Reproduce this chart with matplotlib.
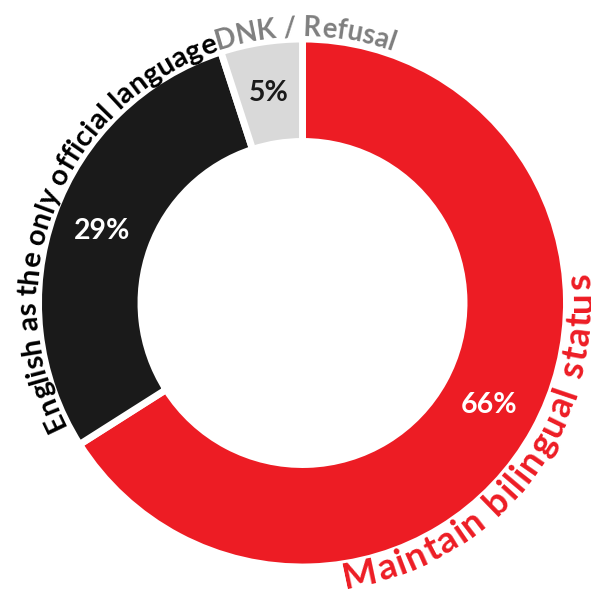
import numpy as np
import matplotlib
matplotlib.use('Agg')
import matplotlib.pyplot as plt
from matplotlib.font_manager import FontProperties
from matplotlib.textpath import TextToPath

# ========== DATA ==========
categories = ['Maintain bilingual status', 'English as the only official language', 'DNK / Refusal']
shares = [66, 29, 5]

# ========== STYLE ==========
DPI = 100
SIZE_PX = 591
SLICE_COLORS = ['#ED1C24', '#1A1A1A', '#D9D9D9']
PCT_COLORS = ['white', 'white', '#1A1A1A']
LABEL_COLORS = ['#ED1C24', '#000000', '#7F7F7F']
FONT = 'Lato'

CX, CY = 302.5, SIZE_PX - 303
R_OUT = 264
R_IN = 161.5
EDGE_W = 5

# label placement: (baseline radius, centre angle, size, outward?, extra spacing px)
LABEL_LAYOUT = [
    (289, -37.8, 26.5, False, 1.7),
    (266, 157.9, 21, True, 0.0),
    (267, 89.5, 19.8, True, 0.0),
]

ttp = TextToPath()


def text_w(s, prop):
    # width in pixels, using a sentinel so trailing spaces count
    w1 = ttp.get_text_width_height_descent(s + '|', prop, ismath=False)[0]
    w0 = ttp.get_text_width_height_descent('|', prop, ismath=False)[0]
    return (w1 - w0) * DPI / 72.0


def curved_text(ax, text, r, mid_deg, size, color, outward=True, track=0.0):
    prop = FontProperties(family=FONT, weight='bold', size=size)
    total = text_w(text, prop) + track * (len(text) - 1)
    mid = np.radians(mid_deg)
    for i, ch in enumerate(text):
        if ch == ' ':
            continue
        left = text_w(text[:i], prop)
        right = text_w(text[:i + 1], prop)
        s = (left + right) / 2 + track * i - total / 2
        if outward:
            th = mid - s / r
            rot = np.degrees(th) - 90
        else:
            th = mid + s / r
            rot = np.degrees(th) + 90
        ax.text(CX + r * np.cos(th), CY + r * np.sin(th), ch,
                rotation=rot, rotation_mode='anchor', ha='center', va='baseline',
                fontproperties=prop, color=color)


fig = plt.figure(figsize=(SIZE_PX / DPI, SIZE_PX / DPI), dpi=DPI)
ax = fig.add_axes([0, 0, 1, 1])

wedges, _, pcts = ax.pie(shares, colors=SLICE_COLORS, startangle=90, counterclock=False,
                         radius=R_OUT, center=(CX, CY), autopct='%d%%',
                         pctdistance=(R_OUT + R_IN) / 2 / R_OUT,
                         wedgeprops=dict(width=R_OUT - R_IN, edgecolor='white', linewidth=EDGE_W))

for t, c in zip(pcts, PCT_COLORS):
    t.set_color(c)
    t.set_fontsize(20.5)
    t.set_fontweight('bold')
    t.set_fontfamily(FONT)

for txt, col, (r, ang, sz, out, trk) in zip(categories, LABEL_COLORS, LABEL_LAYOUT):
    curved_text(ax, txt, r, ang, sz, col, outward=out, track=trk)

ax.set_xlim(0, SIZE_PX)
ax.set_ylim(0, SIZE_PX)
ax.set_aspect('equal')
ax.axis('off')

plt.savefig('out.png', dpi=DPI)
plt.close()
